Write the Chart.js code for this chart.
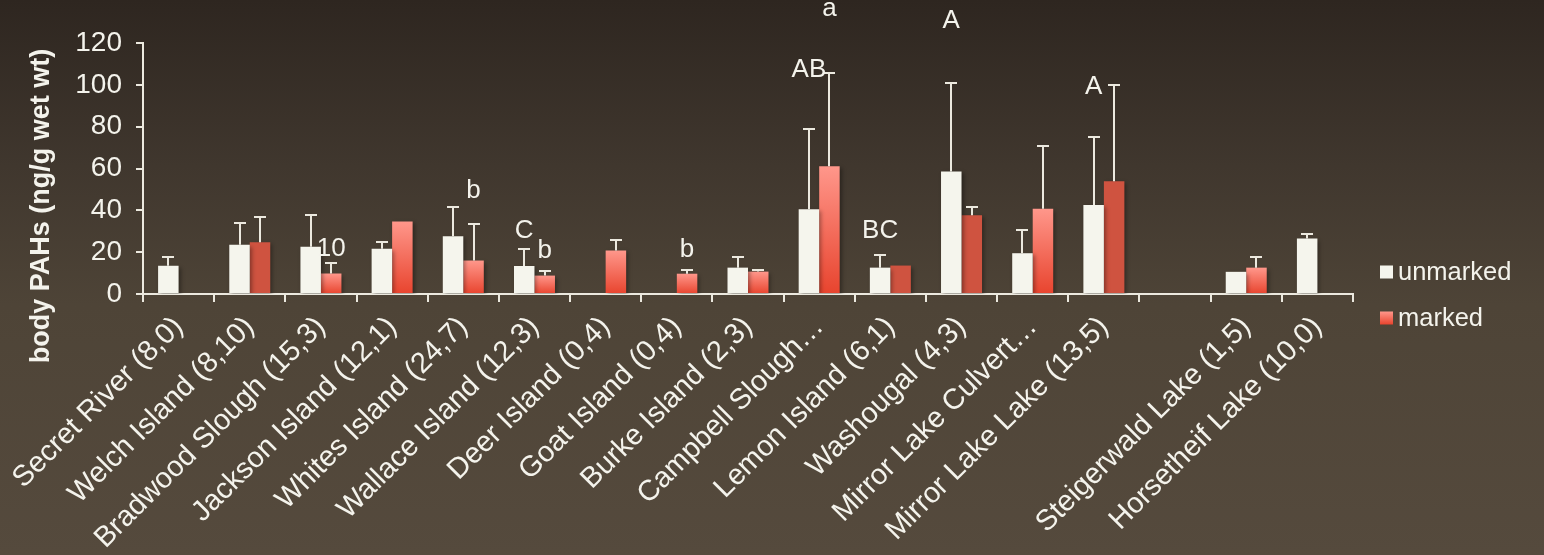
<!DOCTYPE html>
<html>
<head>
<meta charset="utf-8">
<script src="https://cdn.jsdelivr.net/npm/chart.js@4/dist/chart.umd.min.js"></script>
<style>
  html, body { margin: 0; padding: 0; }
  body { width: 1544px; height: 555px; overflow: hidden;
         background: linear-gradient(to bottom, #2E2620 0%, #40372E 30%, #4E4437 55%, #554A3D 100%); }
  #wrap { position: relative; width: 1544px; height: 555px; }
</style>
</head>
<body>
<div id="wrap"><canvas id="c" width="1544" height="555"></canvas></div>
<script>
// ---- data ----
const categories = [
  'Secret River (8,0)', 'Welch Island (8,10)', 'Bradwood Slough (15,3)', 'Jackson Island (12,1)',
  'Whites Island (24,7)', 'Wallace Island (12,3)', 'Deer Island (0,4)', 'Goat Island (0,4)',
  'Burke Island (2,3)', 'Campbell Slough\u2026', 'Lemon Island (6,1)', 'Washougal (4,3)',
  'Mirror Lake Culvert\u2026', 'Mirror Lake Lake (13,5)', '', 'Steigerwald Lake (1,5)', 'Horsetheif Lake (10,0)'
];
const seriesNames = ['unmarked', 'marked'];
const unmarkedMean = [13.5, 23.5, 22.6, 21.6, 27.6, 13.4, null, null, 12.6, 40.5, 12.6, 58.6, 19.5, 42.5, null, 10.6, 26.5];
const unmarkedErr  = [4.0, 10.5, 15.0, 3.2, 14.2, 8.2, null, null, 5.0, 38.4, 6.0, 42.4, 11.2, 32.4, null, null, 2.3];
const markedMean   = [null, 24.8, 9.8, 34.7, 16.0, 8.8, 20.8, 9.7, 10.7, 61.1, 13.6, 37.6, 40.8, 53.9, null, 12.6, null];
const markedErr    = [null, 11.8, 5.0, null, 17.7, 2.0, 5.0, 2.0, 1.0, 44.6, null, 4.2, 30.0, 45.9, null, 5.0, null];
const yTicks = [0, 20, 40, 60, 80, 100, 120];
const yTitle = 'body PAHs (ng/g wet wt)';
// significance letters: text, category index, series index, baseline level (data units)
const letterText   = ['10', 'b', 'C', 'b', 'b', 'AB', 'a', 'BC', 'A', 'A'];
const letterCat    = [2, 4, 5, 5, 7, 9, 9, 10, 11, 13];
const letterSeries = [1, 1, 0, 1, 1, 0, 1, 0, 0, 0];
const letterLevel  = [18, 45.7, 27, 17.4, 17.9, 103.8, 133.1, 27, 127.4, 95.7];

// ---- style ----
const FONT = "'Liberation Sans', Arial, sans-serif";
const TXT = '#F4F3EC';
const AXIS = '#ECE9DF';
const UNMARKED = '#F5F5ED';
const SOLID_RED = '#CF5340';
const GRAD_TOP = '#FF978B';
const GRAD_BOT = '#E8442E';
const solidMarked = [1, 10, 11, 13];

function markedColor(ctx) {
  if (ctx.type !== 'data') return GRAD_BOT;
  const i = ctx.dataIndex;
  if (solidMarked.includes(i)) return SOLID_RED;
  const chart = ctx.chart;
  const ys = chart.scales.y;
  const v = ctx.raw;
  if (!ys || v == null) return GRAD_BOT;
  const top = ys.getPixelForValue(v), base = ys.getPixelForValue(0);
  if (!isFinite(top) || !isFinite(base) || top === base) return GRAD_BOT;
  const g = chart.ctx.createLinearGradient(0, top, 0, base);
  g.addColorStop(0, GRAD_TOP);
  g.addColorStop(1, GRAD_BOT);
  return g;
}

const shadowPlugin = {
  id: 'shadow',
  beforeDatasetsDraw(chart) {
    const c = chart.ctx; c.save();
    c.shadowColor = 'rgba(0,0,0,0.35)'; c.shadowBlur = 4; c.shadowOffsetX = 2; c.shadowOffsetY = 2;
  },
  afterDatasetsDraw(chart) { chart.ctx.restore(); }
};

const errorPlugin = {
  id: 'errbars',
  afterDatasetsDraw(chart) {
    const c = chart.ctx, ys = chart.scales.y;
    const means = [unmarkedMean, markedMean], errs = [unmarkedErr, markedErr];
    c.save();
    c.strokeStyle = AXIS; c.lineWidth = 2;
    for (let s = 0; s < 2; s++) {
      const meta = chart.getDatasetMeta(s);
      meta.data.forEach((el, i) => {
        const m = means[s][i], e = errs[s][i];
        if (m == null || e == null || e <= 0) return;
        const yTop = Math.round(ys.getPixelForValue(m + e));
        const x = Math.round(el.x);
        c.beginPath();
        c.moveTo(x, el.y); c.lineTo(x, yTop);
        c.moveTo(x - 6, yTop); c.lineTo(x + 6, yTop);
        c.stroke();
      });
    }
    c.restore();
  }
};

const letterPlugin = {
  id: 'letters',
  afterDraw(chart) {
    const c = chart.ctx, ys = chart.scales.y;
    c.save();
    c.fillStyle = TXT; c.font = '26px ' + FONT; c.textAlign = 'center'; c.textBaseline = 'alphabetic';
    letterText.forEach((t, k) => {
      const el = chart.getDatasetMeta(letterSeries[k]).data[letterCat[k]];
      c.fillText(t, el.x, ys.getPixelForValue(letterLevel[k]));
    });
    c.restore();
  }
};

const yTitlePlugin = {
  id: 'yTitle',
  afterDraw(chart) {
    const c = chart.ctx;
    c.save();
    c.translate(42, 206);
    c.rotate(-Math.PI / 2);
    c.fillStyle = TXT; c.font = 'bold 27px ' + FONT; c.textAlign = 'center'; c.textBaseline = 'middle';
    c.fillText(yTitle, 0, 0);
    c.restore();
  }
};

const legendPlugin = {
  id: 'customLegend',
  afterDraw(chart) {
    const c = chart.ctx, a = chart.chartArea;
    const x0 = a.right + 27;
    const rows = [272, 318];
    c.save();
    c.font = '25.5px ' + FONT; c.textBaseline = 'middle'; c.textAlign = 'left';
    seriesNames.forEach((name, k) => {
      const yc = rows[k];
      if (k === 0) c.fillStyle = UNMARKED;
      else { const g = c.createLinearGradient(0, yc - 6.5, 0, yc + 6.5); g.addColorStop(0, GRAD_TOP); g.addColorStop(1, GRAD_BOT); c.fillStyle = g; }
      c.fillRect(x0, yc - 6.5, 13, 13);
      c.fillStyle = TXT;
      c.fillText(name, x0 + 18, yc + 1);
    });
    c.restore();
  }
};

new Chart(document.getElementById('c'), {
  type: 'bar',
  data: {
    labels: categories,
    datasets: [
      { label: seriesNames[0], data: unmarkedMean, backgroundColor: UNMARKED, borderWidth: 0 },
      { label: seriesNames[1], data: markedMean, backgroundColor: markedColor, borderWidth: 0 }
    ]
  },
  options: {
    responsive: false,
    animation: false,
    events: [],
    layout: { padding: { top: 43, right: 191, bottom: 0, left: 0 } },
    datasets: { bar: { categoryPercentage: 0.576, barPercentage: 1.0 } },
    plugins: { legend: { display: false }, tooltip: { enabled: false }, title: { display: false } },
    scales: {
      x: {
        grid: { display: true, drawOnChartArea: false, drawTicks: true, tickLength: 8, color: AXIS, lineWidth: 2, offset: true },
        border: { display: true, color: AXIS, width: 2 },
        ticks: { color: TXT, font: { family: FONT, size: 29 }, maxRotation: 45, minRotation: 45, autoSkip: false, padding: 8 },
        afterFit(scale) { scale.height = 261; }
      },
      y: {
        min: 0, max: 120,
        afterBuildTicks(scale) { scale.ticks = yTicks.map(v => ({ value: v })); },
        grid: { display: true, drawOnChartArea: false, drawTicks: true, tickLength: 7, color: AXIS, lineWidth: 2 },
        border: { display: true, color: AXIS, width: 2 },
        ticks: { color: TXT, font: { family: FONT, size: 28 }, padding: 14 },
        title: { display: false },
        afterFit(scale) { scale.width = 143; }
      }
    }
  },
  plugins: [shadowPlugin, errorPlugin, letterPlugin, yTitlePlugin, legendPlugin]
});
</script>
</body>
</html>
